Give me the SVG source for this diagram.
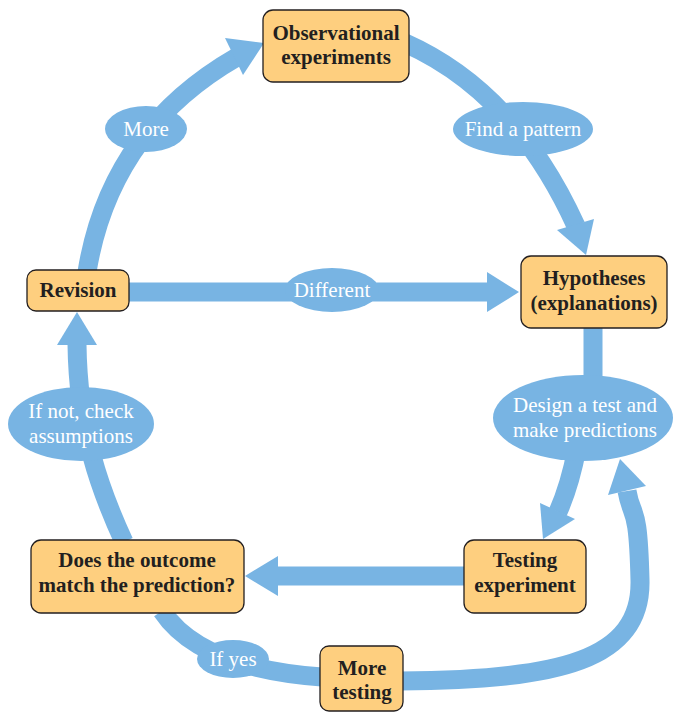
<svg xmlns="http://www.w3.org/2000/svg" width="673" height="713" viewBox="0 0 673 713">
<style>
.sh{fill:none;stroke:#78b4e3;stroke-width:19}
.hd{fill:#78b4e3}
.lb{fill:#78b4e3}
.lt{font-family:"Liberation Serif",serif;font-size:21px;fill:#ffffff;text-anchor:middle}
.bx{fill:#fecf7f;stroke:#231f20;stroke-width:1.3}
.nt{font-family:"Liberation Serif",serif;font-size:21px;font-weight:bold;fill:#231f20;text-anchor:middle}
</style>
<rect width="673" height="713" fill="#ffffff"/>
<g id="connectors">
  <!-- Revision -> Observational (More) -->
  <path class="sh" d="M 87 272 Q 110 130 237 57"/>
  <polygon class="hd" points="264,43 225,38 243,75"/>
  <!-- Observational -> Hypotheses (Find a pattern) -->
  <path class="sh" d="M 405 43 Q 515 92 576 226"/>
  <polygon class="hd" points="586,255 557,230 594,219"/>
  <!-- Revision -> Hypotheses (Different) -->
  <path class="sh" d="M 128 292 L 489 292"/>
  <polygon class="hd" points="519,292 487,272 487,312"/>
  <!-- Hypotheses -> Design -->
  <path class="sh" d="M 593 326 L 593 390"/>
  <!-- Design -> Testing -->
  <path class="sh" d="M 577 448 Q 570 485 558 512"/>
  <polygon class="hd" points="543,539 540,503 575,519"/>
  <!-- Testing -> Does -->
  <path class="sh" d="M 465 576 L 276 576"/>
  <polygon class="hd" points="245,576 278,556 278,596"/>
  <!-- Does -> Revision (If not) -->
  <path class="sh" d="M 124 542 C 100 490 78 430 77 344"/>
  <polygon class="hd" points="77,312 57,345 97,345"/>
  <!-- Does -> More testing (If yes) -->
  <path class="sh" d="M 162 611 Q 200 668 322 677"/>
  <!-- More testing -> Design -->
  <path class="sh" d="M 400 681 C 560 680 642 660 640 580 S 632 520 627 491"/>
  <polygon class="hd" points="620,459 608,495 646,486"/>
  <!-- labels -->
  <ellipse class="lb" cx="146" cy="129" rx="41" ry="23"/>
  <text class="lt" x="146" y="136">More</text>
  <ellipse class="lb" cx="523" cy="129" rx="70" ry="27"/>
  <text class="lt" x="523" y="136">Find a pattern</text>
  <ellipse class="lb" cx="332" cy="290" rx="47" ry="22"/>
  <text class="lt" x="332" y="297">Different</text>
  <ellipse class="lb" cx="583" cy="418" rx="90" ry="43"/>
  <text class="lt" x="585" y="412">Design a test and</text>
  <text class="lt" x="585" y="437">make predictions</text>
  <ellipse class="lb" cx="81" cy="424" rx="73" ry="37"/>
  <text class="lt" x="81" y="418">If not, check</text>
  <text class="lt" x="81" y="443">assumptions</text>
  <ellipse class="lb" cx="233" cy="659" rx="36" ry="19"/>
  <text class="lt" x="233" y="666">If yes</text>
</g>
<g id="observational">
  <rect class="bx" x="263" y="10" width="146" height="72" rx="10"/>
  <text class="nt" x="336" y="40">Observational</text>
  <text class="nt" x="336" y="64">experiments</text>
</g>
<g id="hypotheses">
  <rect class="bx" x="521" y="256" width="146" height="72" rx="10"/>
  <text class="nt" x="594" y="285">Hypotheses</text>
  <text class="nt" x="594" y="310">(explanations)</text>
</g>
<g id="revision">
  <rect class="bx" x="27" y="270" width="102" height="41" rx="9"/>
  <text class="nt" x="78" y="297">Revision</text>
</g>
<g id="does">
  <rect class="bx" x="31" y="540" width="213" height="73" rx="10"/>
  <text class="nt" x="137" y="567">Does the outcome</text>
  <text class="nt" x="137" y="592">match the prediction?</text>
</g>
<g id="testing">
  <rect class="bx" x="464" y="540" width="122" height="73" rx="10"/>
  <text class="nt" x="525" y="567">Testing</text>
  <text class="nt" x="525" y="592">experiment</text>
</g>
<g id="moretesting">
  <rect class="bx" x="320" y="646" width="83" height="65" rx="9"/>
  <text class="nt" x="362" y="675">More</text>
  <text class="nt" x="362" y="699">testing</text>
</g>
</svg>
